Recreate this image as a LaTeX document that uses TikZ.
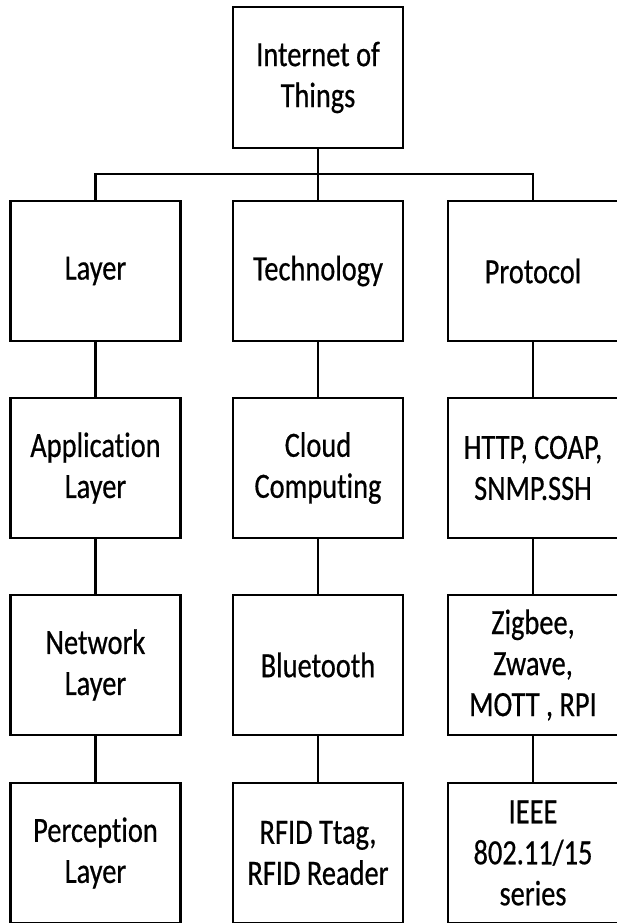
\documentclass[tikz,border=0pt]{standalone}
\usepackage{fontspec}
\setmainfont{Carlito}[FakeStretch=0.8,FakeBold=0.5,Ligatures=NoCommon]
\tikzset{
  box/.style={draw=black, line width=2.6pt, minimum width=170pt, minimum height=140pt,
    inner sep=0pt, align=center, font=\fontsize{35.5}{41}\selectfont, fill=white},
  link/.style={line width=2.6pt, draw=black}
}
\begin{document}
\begin{tikzpicture}[x=1pt,y=-1pt]
\useasboundingbox (0,0) rectangle (616,923);
\node[box, minimum height=141pt] (top) at (318,77.5) {Internet of\\Things};
\node[box] (l1) at (95.5,271) {Layer};
\node[box] (t1) at (318,271) {Technology};
\node[box] (p1) at (533,271) {Protocol};
\node[box] (l2) at (95.5,468) {Application\\Layer};
\node[box] (t2) at (318,468) {Cloud\\Computing};
\node[box] (p2) at (533,468) {HTTP, COAP,\\SNMP.SSH};
\node[box] (l3) at (95.5,665) {Network\\Layer};
\node[box] (t3) at (318,665) {Bluetooth};
\node[box] (p3) at (533,665) {Zigbee,\\Zwave,\\MOTT , RPI};
\node[box] (l4) at (95.5,853) {Perception\\Layer};
\node[box] (t4) at (318,853) {RFID Ttag,\\RFID Reader};
\node[box] (p4) at (533,853) {IEEE\\802.11/15\\series};
\coordinate (bus) at (318,174);
\draw[link] (top.south) -- (bus) -- (t1.north);
\draw[link] (l1.north) -- (l1.north |- bus) -- (p1.north |- bus) -- (p1.north);
\draw[link] (l1.south) -- (l2.north);
\draw[link] (l2.south) -- (l3.north);
\draw[link] (l3.south) -- (l4.north);
\draw[link] (t1.south) -- (t2.north);
\draw[link] (t2.south) -- (t3.north);
\draw[link] (t3.south) -- (t4.north);
\draw[link] (p1.south) -- (p2.north);
\draw[link] (p2.south) -- (p3.north);
\draw[link] (p3.south) -- (p4.north);
\end{tikzpicture}
\end{document}
